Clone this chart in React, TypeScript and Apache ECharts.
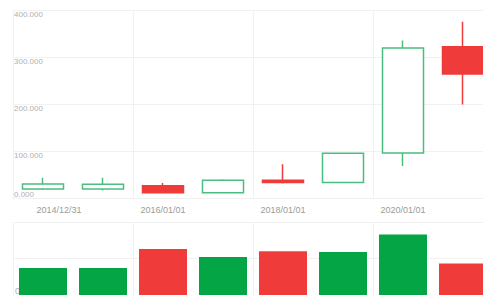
import React, { useEffect, useRef } from "react";
import * as echarts from "echarts";

const dates = [
  "2014/12/31",
  "2015/01/01",
  "2016/01/01",
  "2017/01/01",
  "2018/01/01",
  "2019/01/01",
  "2020/01/01",
  "2021/01/01",
];
// [open, close, low, high]
const opens = [19, 19, 26, 11, 38, 33, 96, 322];
const closes = [30, 29, 11, 38, 33, 95, 319, 264];
const lows = [17, 16, 11, 11, 31, 33, 68, 199];
const highs = [43, 43, 32, 40, 72, 97, 335, 375];
const volumes = [37, 37, 63, 52, 60, 59, 83, 43];

const UP_BORDER = "#4cbd80";
const DOWN = "#f03b3b";
const VOL_UP = "#03a544";
const GRID_LINE = "#f1f1f1";

export default function App() {
  const ref = useRef<HTMLDivElement>(null);
  useEffect(() => {
    if (!ref.current) return;
    const chart = echarts.init(ref.current, undefined, { renderer: "svg" });
    const kData = dates.map((_, i) => [opens[i], closes[i], lows[i], highs[i]]);
    const volData = volumes.map((v, i) => ({
      value: v,
      itemStyle: { color: closes[i] >= opens[i] ? VOL_UP : DOWN },
    }));
    const font = "'Liberation Sans', Arial, sans-serif";
    chart.setOption({
      animation: false,
      grid: [
        { left: 13, right: 0, top: 10, bottom: 97 },
        { left: 13, right: 0, top: 222, bottom: -1 },
      ],
      xAxis: [
        {
          type: "category",
          gridIndex: 0,
          data: dates,
          boundaryGap: true,
          axisTick: { show: false },
          axisLine: { show: true, lineStyle: { color: GRID_LINE } },
          axisLabel: {
            interval: 1,
            color: "#9a9a9a",
            fontSize: 9,
            fontFamily: font,
            margin: 7,
            formatter: (v: string, idx: number) =>
              idx === 0 ? "{a|" + v + "}" : v,
            rich: {
              a: {
                color: "#9a9a9a",
                fontSize: 9,
                fontFamily: font,
                padding: [0, 0, 0, 32],
              },
            },
          },
          splitLine: { show: true, interval: 1, lineStyle: { color: GRID_LINE } },
        },
        {
          type: "category",
          gridIndex: 1,
          data: dates,
          boundaryGap: true,
          axisTick: { show: false },
          axisLine: { show: false },
          axisLabel: { show: false },
          splitLine: { show: true, interval: 1, lineStyle: { color: GRID_LINE } },
        },
      ],
      yAxis: [
        {
          type: "value",
          gridIndex: 0,
          min: 0,
          max: 400,
          interval: 100,
          position: "left",
          axisLine: { show: false },
          axisTick: { show: false },
          axisLabel: {
            inside: true,
            margin: 1,
            showMinLabel: false,
            verticalAlign: "top",
            color: "#b0b0b0",
            fontSize: 8,
            fontFamily: font,
            formatter: (v: number) => v.toFixed(3),
          },
          splitLine: { show: true, lineStyle: { color: GRID_LINE } },
        },
        {
          type: "value",
          gridIndex: 0,
          min: 0,
          max: 400,
          interval: 100,
          position: "left",
          axisLine: { show: false },
          axisTick: { show: false },
          axisLabel: {
            inside: true,
            margin: 1,
            verticalAlign: "bottom",
            color: "#b0b0b0",
            fontSize: 8,
            fontFamily: font,
            formatter: (v: number) => (v === 0 ? v.toFixed(3) : ""),
          },
          splitLine: { show: false },
        },
        {
          type: "value",
          gridIndex: 1,
          min: 0,
          max: 100,
          interval: 50,
          axisLine: { show: false },
          axisTick: { show: false },
          axisLabel: {
            inside: true,
            margin: 2,
            verticalAlign: "bottom",
            color: "#b0b0b0",
            fontSize: 9,
            fontFamily: font,
            formatter: (v: number) => (v === 0 ? "0" : ""),
          },
          splitLine: { show: true, lineStyle: { color: GRID_LINE } },
        },
      ],
      series: [
        {
          type: "candlestick",
          xAxisIndex: 0,
          yAxisIndex: 0,
          data: kData,
          barWidth: 42,
          itemStyle: {
            color: "#ffffff",
            color0: DOWN,
            borderColor: UP_BORDER,
            borderColor0: DOWN,
            borderWidth: 1.5,
          },
        },
        {
          type: "bar",
          xAxisIndex: 1,
          yAxisIndex: 2,
          data: volData,
          barWidth: 48,
        },
      ],
    });
    return () => chart.dispose();
  }, []);
  return (
    <div
      style={{ position: "fixed", left: 0, top: 0, width: 483, height: 295, overflow: "hidden", background: "#fff" }}
    >
      <div ref={ref} style={{ width: 493, height: 295 }} />
    </div>
  );
}
